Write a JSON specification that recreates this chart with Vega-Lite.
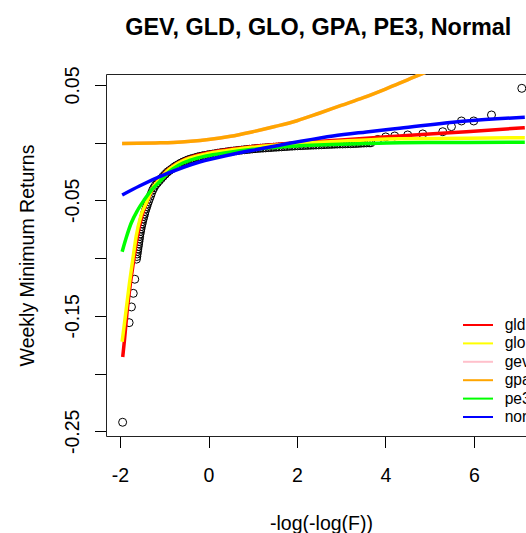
{
  "$schema": "https://vega.github.io/schema/vega-lite/v6.json",
  "autosize": "none",
  "width": 420,
  "height": 362,
  "padding": {"left": 106, "top": 74, "right": 0, "bottom": 97},
  "background": "white",
  "config": {
    "view": {"stroke": null},
    "font": "Liberation Sans",
    "axis": {"grid": false}
  },
  "title": {
    "text": "GEV, GLD, GLO, GPA, PE3, Normal",
    "font": "Liberation Sans",
    "fontSize": 23.4,
    "fontWeight": "bold",
    "color": "black",
    "anchor": "middle",
    "baseline": "alphabetic",
    "offset": 8,
    "dx": 2.3
  },
  "datasets": {
    "obs": [
      {"x": -1.941, "y": -0.2422},
      {"x": -1.794, "y": -0.1559},
      {"x": -1.742, "y": -0.1423},
      {"x": -1.701, "y": -0.1305},
      {"x": -1.667, "y": -0.1183},
      {"x": -1.629, "y": -0.1009},
      {"x": -1.620, "y": -0.0986},
      {"x": -1.613, "y": -0.0964},
      {"x": -1.604, "y": -0.0942},
      {"x": -1.597, "y": -0.0921},
      {"x": -1.588, "y": -0.0899},
      {"x": -1.580, "y": -0.0877},
      {"x": -1.572, "y": -0.0856},
      {"x": -1.563, "y": -0.0834},
      {"x": -1.557, "y": -0.0812},
      {"x": -1.548, "y": -0.0791},
      {"x": -1.536, "y": -0.0769},
      {"x": -1.527, "y": -0.0748},
      {"x": -1.516, "y": -0.0726},
      {"x": -1.502, "y": -0.0704},
      {"x": -1.491, "y": -0.0683},
      {"x": -1.476, "y": -0.0661},
      {"x": -1.462, "y": -0.0639},
      {"x": -1.446, "y": -0.0618},
      {"x": -1.432, "y": -0.0596},
      {"x": -1.414, "y": -0.0574},
      {"x": -1.396, "y": -0.0553},
      {"x": -1.378, "y": -0.0531},
      {"x": -1.357, "y": -0.0509},
      {"x": -1.335, "y": -0.0486},
      {"x": -1.312, "y": -0.0462},
      {"x": -1.290, "y": -0.0438},
      {"x": -1.262, "y": -0.0411},
      {"x": -1.233, "y": -0.0390},
      {"x": -1.199, "y": -0.0368},
      {"x": -1.158, "y": -0.0349},
      {"x": -1.115, "y": -0.0330},
      {"x": -1.070, "y": -0.0311},
      {"x": -1.025, "y": -0.0292},
      {"x": -0.977, "y": -0.0273},
      {"x": -0.930, "y": -0.0255},
      {"x": -0.882, "y": -0.0241},
      {"x": -0.833, "y": -0.0228},
      {"x": -0.783, "y": -0.0213},
      {"x": -0.733, "y": -0.0200},
      {"x": -0.681, "y": -0.0189},
      {"x": -0.629, "y": -0.0177},
      {"x": -0.575, "y": -0.0167},
      {"x": -0.520, "y": -0.0158},
      {"x": -0.466, "y": -0.0149},
      {"x": -0.412, "y": -0.0142},
      {"x": -0.357, "y": -0.0136},
      {"x": -0.303, "y": -0.0130},
      {"x": -0.249, "y": -0.0124},
      {"x": -0.195, "y": -0.0119},
      {"x": -0.138, "y": -0.0114},
      {"x": -0.081, "y": -0.0110},
      {"x": -0.025, "y": -0.0106},
      {"x": 0.032, "y": -0.0102},
      {"x": 0.09, "y": -0.0099},
      {"x": 0.15, "y": -0.0095},
      {"x": 0.21, "y": -0.0091},
      {"x": 0.27, "y": -0.0087},
      {"x": 0.33, "y": -0.0084},
      {"x": 0.39, "y": -0.0081},
      {"x": 0.45, "y": -0.0077},
      {"x": 0.51, "y": -0.0074},
      {"x": 0.57, "y": -0.0072},
      {"x": 0.63, "y": -0.0069},
      {"x": 0.69, "y": -0.0066},
      {"x": 0.75, "y": -0.0064},
      {"x": 0.81, "y": -0.0061},
      {"x": 0.87, "y": -0.0059},
      {"x": 0.93, "y": -0.0057},
      {"x": 0.99, "y": -0.0054},
      {"x": 1.05, "y": -0.0052},
      {"x": 1.11, "y": -0.0050},
      {"x": 1.17, "y": -0.0048},
      {"x": 1.23, "y": -0.0047},
      {"x": 1.29, "y": -0.0045},
      {"x": 1.35, "y": -0.0043},
      {"x": 1.41, "y": -0.0042},
      {"x": 1.47, "y": -0.0040},
      {"x": 1.53, "y": -0.0039},
      {"x": 1.59, "y": -0.0037},
      {"x": 1.65, "y": -0.0036},
      {"x": 1.71, "y": -0.0034},
      {"x": 1.77, "y": -0.0033},
      {"x": 1.83, "y": -0.0031},
      {"x": 1.89, "y": -0.0030},
      {"x": 1.95, "y": -0.0028},
      {"x": 2.01, "y": -0.0027},
      {"x": 2.07, "y": -0.0026},
      {"x": 2.13, "y": -0.0025},
      {"x": 2.19, "y": -0.0024},
      {"x": 2.25, "y": -0.0023},
      {"x": 2.31, "y": -0.0022},
      {"x": 2.37, "y": -0.0021},
      {"x": 2.43, "y": -0.0020},
      {"x": 2.49, "y": -0.0019},
      {"x": 2.55, "y": -0.0018},
      {"x": 2.61, "y": -0.0017},
      {"x": 2.67, "y": -0.0016},
      {"x": 2.73, "y": -0.0015},
      {"x": 2.79, "y": -0.0014},
      {"x": 2.85, "y": -0.0013},
      {"x": 2.91, "y": -0.0012},
      {"x": 2.97, "y": -0.0011},
      {"x": 3.03, "y": -0.0011},
      {"x": 3.09, "y": -0.0010},
      {"x": 3.15, "y": -0.0009},
      {"x": 3.21, "y": -0.0009},
      {"x": 3.27, "y": -0.0008},
      {"x": 3.33, "y": -0.0007},
      {"x": 3.39, "y": -0.0006},
      {"x": 3.45, "y": -0.0004},
      {"x": 3.51, "y": -0.0003},
      {"x": 3.57, "y": -0.0002},
      {"x": 3.63, "y": -0.0001},
      {"x": 3.67, "y": -0.0001},
      {"x": 3.824, "y": 0.0028},
      {"x": 4.005, "y": 0.0050},
      {"x": 4.208, "y": 0.0058},
      {"x": 4.502, "y": 0.0067},
      {"x": 4.842, "y": 0.0076},
      {"x": 5.294, "y": 0.0095},
      {"x": 5.491, "y": 0.0139},
      {"x": 5.717, "y": 0.0188},
      {"x": 5.995, "y": 0.0188},
      {"x": 6.396, "y": 0.0240},
      {"x": 7.081, "y": 0.0471}
    ],
    "fits": [
      {"dist": "gld", "x": -1.939, "y": -0.1857},
      {"dist": "gld", "x": -1.900, "y": -0.1712},
      {"dist": "gld", "x": -1.844, "y": -0.1478},
      {"dist": "gld", "x": -1.776, "y": -0.1252},
      {"dist": "gld", "x": -1.697, "y": -0.1035},
      {"dist": "gld", "x": -1.618, "y": -0.0836},
      {"dist": "gld", "x": -1.505, "y": -0.0636},
      {"dist": "gld", "x": -1.391, "y": -0.0515},
      {"dist": "gld", "x": -1.244, "y": -0.0385},
      {"dist": "gld", "x": -1.097, "y": -0.0311},
      {"dist": "gld", "x": -0.950, "y": -0.0246},
      {"dist": "gld", "x": -0.792, "y": -0.0200},
      {"dist": "gld", "x": -0.566, "y": -0.0150},
      {"dist": "gld", "x": -0.407, "y": -0.0127},
      {"dist": "gld", "x": -0.045, "y": -0.0090},
      {"dist": "gld", "x": 0.407, "y": -0.0061},
      {"dist": "gld", "x": 0.995, "y": -0.0033},
      {"dist": "gld", "x": 2.059, "y": 0.0001},
      {"dist": "gld", "x": 2.805, "y": 0.0019},
      {"dist": "gld", "x": 3.568, "y": 0.0038},
      {"dist": "gld", "x": 4.321, "y": 0.0058},
      {"dist": "gld", "x": 5.830, "y": 0.0095},
      {"dist": "gld", "x": 7.149, "y": 0.0130},

      {"dist": "glo", "x": -1.952, "y": -0.1724},
      {"dist": "glo", "x": -1.862, "y": -0.1449},
      {"dist": "glo", "x": -1.787, "y": -0.1218},
      {"dist": "glo", "x": -1.713, "y": -0.1016},
      {"dist": "glo", "x": -1.636, "y": -0.0814},
      {"dist": "glo", "x": -1.523, "y": -0.0626},
      {"dist": "glo", "x": -1.410, "y": -0.0525},
      {"dist": "glo", "x": -1.260, "y": -0.0392},
      {"dist": "glo", "x": -1.109, "y": -0.0323},
      {"dist": "glo", "x": -0.957, "y": -0.0254},
      {"dist": "glo", "x": -0.808, "y": -0.0208},
      {"dist": "glo", "x": -0.581, "y": -0.0158},
      {"dist": "glo", "x": -0.430, "y": -0.0135},
      {"dist": "glo", "x": -0.052, "y": -0.0098},
      {"dist": "glo", "x": 0.400, "y": -0.0069},
      {"dist": "glo", "x": 1.002, "y": -0.0040},
      {"dist": "glo", "x": 2.059, "y": -0.0007},
      {"dist": "glo", "x": 3.568, "y": 0.0024},
      {"dist": "glo", "x": 4.321, "y": 0.0034},
      {"dist": "glo", "x": 5.830, "y": 0.0039},
      {"dist": "glo", "x": 7.149, "y": 0.0043},

      {"dist": "gev", "x": -1.953, "y": -0.0006},
      {"dist": "gev", "x": -1.6, "y": -0.0005},
      {"dist": "gev", "x": -1.2, "y": -0.0002},
      {"dist": "gev", "x": -0.8, "y": 0.0002},
      {"dist": "gev", "x": -0.4, "y": 0.0012},
      {"dist": "gev", "x": 0.0, "y": 0.0027},
      {"dist": "gev", "x": 0.5, "y": 0.0055},
      {"dist": "gev", "x": 1.0, "y": 0.0095},
      {"dist": "gev", "x": 1.5, "y": 0.0140},
      {"dist": "gev", "x": 2.0, "y": 0.0190},
      {"dist": "gev", "x": 2.5, "y": 0.0255},
      {"dist": "gev", "x": 3.0, "y": 0.0323},
      {"dist": "gev", "x": 3.5, "y": 0.0390},
      {"dist": "gev", "x": 4.0, "y": 0.0465},
      {"dist": "gev", "x": 4.5, "y": 0.0545},
      {"dist": "gev", "x": 5.0, "y": 0.0625},
      {"dist": "gev", "x": 6.0, "y": 0.0800},
      {"dist": "gev", "x": 7.2, "y": 0.1040},

      {"dist": "gpa", "x": -1.953, "y": -0.0006},
      {"dist": "gpa", "x": -1.6, "y": -0.0005},
      {"dist": "gpa", "x": -1.2, "y": -0.0002},
      {"dist": "gpa", "x": -0.8, "y": 0.0002},
      {"dist": "gpa", "x": -0.4, "y": 0.0012},
      {"dist": "gpa", "x": 0.0, "y": 0.0027},
      {"dist": "gpa", "x": 0.5, "y": 0.0055},
      {"dist": "gpa", "x": 1.0, "y": 0.0095},
      {"dist": "gpa", "x": 1.5, "y": 0.0140},
      {"dist": "gpa", "x": 2.0, "y": 0.0190},
      {"dist": "gpa", "x": 2.5, "y": 0.0255},
      {"dist": "gpa", "x": 3.0, "y": 0.0323},
      {"dist": "gpa", "x": 3.5, "y": 0.0390},
      {"dist": "gpa", "x": 4.0, "y": 0.0465},
      {"dist": "gpa", "x": 4.5, "y": 0.0545},
      {"dist": "gpa", "x": 5.0, "y": 0.0625},
      {"dist": "gpa", "x": 6.0, "y": 0.0800},
      {"dist": "gpa", "x": 7.2, "y": 0.1040},

      {"dist": "pe3", "x": -1.952, "y": -0.0944},
      {"dist": "pe3", "x": -1.855, "y": -0.0817},
      {"dist": "pe3", "x": -1.749, "y": -0.0698},
      {"dist": "pe3", "x": -1.600, "y": -0.0583},
      {"dist": "pe3", "x": -1.448, "y": -0.0492},
      {"dist": "pe3", "x": -1.290, "y": -0.0410},
      {"dist": "pe3", "x": -1.109, "y": -0.0340},
      {"dist": "pe3", "x": -0.957, "y": -0.0275},
      {"dist": "pe3", "x": -0.808, "y": -0.0228},
      {"dist": "pe3", "x": -0.581, "y": -0.0176},
      {"dist": "pe3", "x": -0.430, "y": -0.0154},
      {"dist": "pe3", "x": -0.052, "y": -0.0115},
      {"dist": "pe3", "x": 0.400, "y": -0.0087},
      {"dist": "pe3", "x": 1.002, "y": -0.0057},
      {"dist": "pe3", "x": 2.059, "y": -0.0027},
      {"dist": "pe3", "x": 3.568, "y": -0.0007},
      {"dist": "pe3", "x": 4.321, "y": -0.0001},
      {"dist": "pe3", "x": 5.830, "y": 0.0002},
      {"dist": "pe3", "x": 7.149, "y": 0.0004},

      {"dist": "normal", "x": -1.952, "y": -0.0453},
      {"dist": "normal", "x": -1.561, "y": -0.0375},
      {"dist": "normal", "x": -0.957, "y": -0.0271},
      {"dist": "normal", "x": -0.204, "y": -0.0167},
      {"dist": "normal", "x": 0.543, "y": -0.0100},
      {"dist": "normal", "x": 1.154, "y": -0.0055},
      {"dist": "normal", "x": 2.059, "y": 0.0010},
      {"dist": "normal", "x": 2.812, "y": 0.0058},
      {"dist": "normal", "x": 3.568, "y": 0.0093},
      {"dist": "normal", "x": 4.321, "y": 0.0125},
      {"dist": "normal", "x": 5.830, "y": 0.0188},
      {"dist": "normal", "x": 7.149, "y": 0.0220}
    ]
  },
  "layer": [
    {
      "data": {"name": "obs"},
      "mark": {"type": "point", "shape": "circle", "filled": false, "stroke": "black", "strokeWidth": 1, "size": 64, "opacity": 1, "clip": true},
      "encoding": {
        "x": {
          "field": "x", "type": "quantitative",
          "scale": {"domain": [-2.317, 7.176], "nice": false, "zero": false},
          "axis": {
            "orient": "bottom",
            "values": [-2, 0, 2, 4, 6],
            "labelExpr": "replace(format(datum.value, 'd'), '\u2212', '-')",
            "labelFont": "Liberation Sans", "labelFontSize": 19.5, "labelColor": "black",
            "labelBaseline": "alphabetic", "labelPadding": 33.5, "labelFlush": false, "labelOverlap": false,
            "tickSize": 11.5, "tickColor": "black", "tickWidth": 1,
            "domainColor": "#222", "domainWidth": 1,
            "title": "-log(-log(F))",
            "titleFont": "Liberation Sans", "titleFontSize": 19.5, "titleFontWeight": "normal", "titleColor": "black",
            "titleX": 215, "titleY": 93.5, "titleBaseline": "alphabetic", "titleAlign": "center"
          }
        },
        "y": {
          "field": "y", "type": "quantitative",
          "scale": {"domain": [-0.2541, 0.0595], "nice": false, "zero": false},
          "axis": {
            "values": [0.05, 0, -0.05, -0.1, -0.15, -0.2, -0.25],
            "labelExpr": "datum.value > 0.04 ? '0.05' : (datum.value > -0.06 && datum.value < -0.04) ? '-0.05' : (datum.value > -0.16 && datum.value < -0.14) ? '-0.15' : datum.value < -0.24 ? '-0.25' : ''",
            "labelAngle": 270, "labelAlign": "center", "labelBaseline": "alphabetic",
            "labelFont": "Liberation Sans", "labelFontSize": 19.5, "labelColor": "black",
            "labelPadding": 16.5, "labelFlush": false, "labelOverlap": false,
            "tickSize": 11.5, "tickColor": "black", "tickWidth": 1,
            "domainColor": "#222", "domainWidth": 1,
            "title": "Weekly Minimum Returns",
            "titleFont": "Liberation Sans", "titleFontSize": 19.5, "titleFontWeight": "normal", "titleColor": "black",
            "titleAngle": 270, "titleX": -72.5, "titleY": 181, "titleBaseline": "alphabetic", "titleAlign": "center"
          }
        }
      }
    },
    {
      "data": {"name": "fits"},
      "mark": {"type": "line", "strokeWidth": 3.5, "clip": true, "strokeCap": "butt", "interpolate": "monotone"},
      "encoding": {
        "x": {
          "field": "x", "type": "quantitative",
          "axis": {"orient": "top", "domain": true, "domainColor": "#222", "ticks": false, "labels": false, "title": null, "grid": false}
        },
        "y": {
          "field": "y", "type": "quantitative",
          "axis": {
            "values": [0.05, 0, -0.05, -0.1, -0.15, -0.2, -0.25],
            "labelExpr": "datum.value > 0.04 ? '0.05' : (datum.value > -0.06 && datum.value < -0.04) ? '-0.05' : (datum.value > -0.16 && datum.value < -0.14) ? '-0.15' : datum.value < -0.24 ? '-0.25' : ''",
            "labelAngle": 270, "labelAlign": "center", "labelBaseline": "alphabetic",
            "labelFont": "Liberation Sans", "labelFontSize": 19.5, "labelColor": "black",
            "labelPadding": 16.5, "labelFlush": false, "labelOverlap": false,
            "tickSize": 11.5, "tickColor": "black", "tickWidth": 1,
            "domainColor": "#222", "domainWidth": 1,
            "title": "Weekly Minimum Returns",
            "titleFont": "Liberation Sans", "titleFontSize": 19.5, "titleFontWeight": "normal", "titleColor": "black",
            "titleAngle": 270, "titleX": -72.5, "titleY": 181, "titleBaseline": "alphabetic", "titleAlign": "center"
          }
        },
        "color": {
          "field": "dist", "type": "nominal",
          "scale": {
            "domain": ["gld", "glo", "gev", "gpa", "pe3", "normal"],
            "range": ["#FF0000", "#FFFF00", "#FFC0CB", "#FFA500", "#00FF00", "#0000FF"]
          },
          "legend": {
            "orient": "none", "legendX": 364.2, "legendY": 243.2,
            "title": null,
            "symbolType": "M-3,0H3", "symbolSize": 100, "symbolStrokeWidth": 2, "symbolOffset": 0,
            "labelFont": "Liberation Sans", "labelFontSize": 15.6, "labelColor": "black",
            "labelOffset": 18.9, "rowPadding": 1.4, "padding": 0
          }
        }
      }
    }
  ],
  "resolve": {"axis": {"x": "independent"}}
}
